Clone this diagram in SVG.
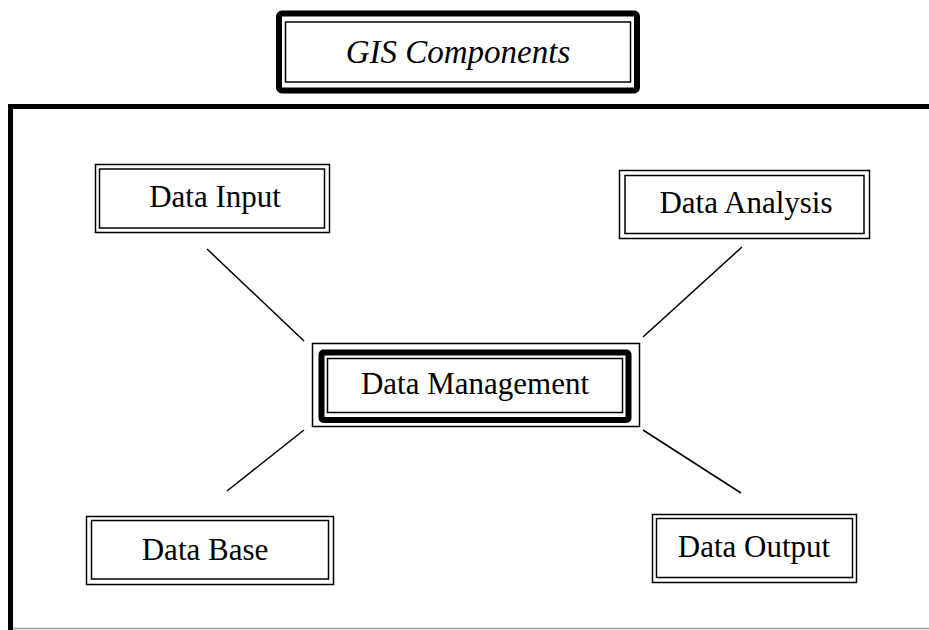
<svg xmlns="http://www.w3.org/2000/svg" width="929" height="630" viewBox="0 0 929 630">
<style>
  .thin { fill: none; stroke: #000; stroke-width: 1.5; }
  .thick { fill: none; stroke: #000; stroke-width: 6; }
  .lbl { font-family: "Liberation Serif", "Times New Roman", serif; font-size: 31px; fill: #000; text-anchor: middle; }
  .title { font-family: "Liberation Serif", "Times New Roman", serif; font-size: 33px; font-style: italic; fill: #000; text-anchor: middle; }
  .conn { stroke: #000; stroke-width: 1.5; fill: none; }
</style>
<rect width="929" height="630" fill="#fff"/>
<g id="frame">
  <line x1="10.5" y1="104" x2="10.5" y2="630" stroke="#000" stroke-width="5"/>
  <line x1="8" y1="106.5" x2="929" y2="106.5" stroke="#000" stroke-width="5"/>
  <line x1="13" y1="628.5" x2="929" y2="628.5" stroke="#999" stroke-width="1.5"/>
</g>
<g id="title">
  <rect class="thick" x="279" y="13.5" width="358" height="77" rx="3"/>
  <rect class="thin" x="285.5" y="22" width="345" height="60"/>
  <text class="title" x="458" y="63">GIS Components</text>
</g>
<g id="connectors">
  <line class="conn" x1="207" y1="249" x2="304" y2="341"/>
  <line class="conn" x1="742" y1="247" x2="643" y2="337"/>
  <line class="conn" x1="304" y1="430" x2="227" y2="491"/>
  <line class="conn" x1="643" y1="430" x2="741" y2="493"/>
</g>
<g id="data-input">
  <rect class="thin" x="95.5" y="164.5" width="234" height="68"/>
  <rect class="thin" x="99.5" y="169" width="225" height="59"/>
  <text class="lbl" x="215" y="207">Data Input</text>
</g>
<g id="data-analysis">
  <rect class="thin" x="619.5" y="170.5" width="250" height="68"/>
  <rect class="thin" x="625" y="175.5" width="239" height="58"/>
  <text class="lbl" x="746" y="213">Data Analysis</text>
</g>
<g id="data-management">
  <rect class="thin" x="312.5" y="343.5" width="327" height="83"/>
  <rect class="thick" x="321.5" y="352.5" width="307" height="67.5" rx="2"/>
  <rect class="thin" x="327.5" y="358.5" width="295" height="54"/>
  <text class="lbl" x="475" y="394">Data Management</text>
</g>
<g id="data-base">
  <rect class="thin" x="86.5" y="516.5" width="247" height="68"/>
  <rect class="thin" x="91.5" y="520.5" width="237" height="58.5"/>
  <text class="lbl" x="205" y="560">Data Base</text>
</g>
<g id="data-output">
  <rect class="thin" x="652.5" y="514.5" width="204" height="68"/>
  <rect class="thin" x="656.5" y="518.5" width="196" height="59"/>
  <text class="lbl" x="754" y="557">Data Output</text>
</g>
</svg>
